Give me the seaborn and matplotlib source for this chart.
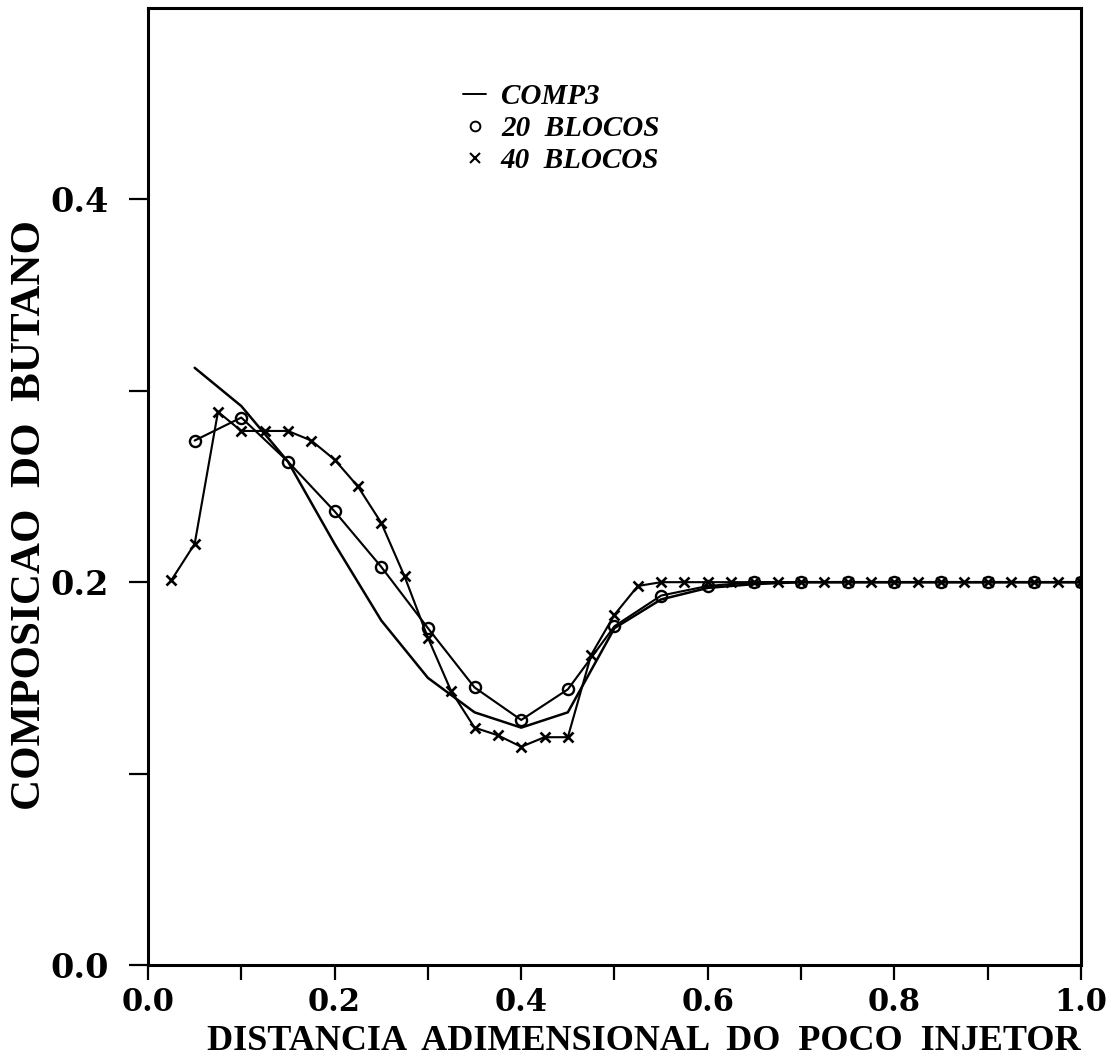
import matplotlib
matplotlib.use("Agg")
import matplotlib.pyplot as plt
from matplotlib.lines import Line2D
import seaborn as sns
import pandas as pd

# Butane composition profiles along the dimensionless distance from the injector well
x_comp3 = [0.05, 0.10, 0.15, 0.20, 0.25, 0.30, 0.35, 0.40, 0.45, 0.50,
           0.55, 0.60, 0.65, 0.70, 0.75, 0.80, 0.85, 0.90, 0.95, 1.00]
y_comp3 = [0.312, 0.292, 0.263, 0.220, 0.180, 0.150, 0.132, 0.124, 0.132, 0.176,
           0.191, 0.197, 0.199, 0.200, 0.200, 0.200, 0.200, 0.200, 0.200, 0.200]

x_20 = [0.05, 0.10, 0.15, 0.20, 0.25, 0.30, 0.35, 0.40, 0.45, 0.50,
        0.55, 0.60, 0.65, 0.70, 0.75, 0.80, 0.85, 0.90, 0.95, 1.00]
y_20 = [0.274, 0.286, 0.263, 0.237, 0.208, 0.176, 0.145, 0.128, 0.144, 0.177,
        0.193, 0.198, 0.200, 0.200, 0.200, 0.200, 0.200, 0.200, 0.200, 0.200]

x_40 = [0.025, 0.050, 0.075, 0.100, 0.125, 0.150, 0.175, 0.200, 0.225, 0.250,
        0.275, 0.300, 0.325, 0.350, 0.375, 0.400, 0.425, 0.450, 0.475, 0.500,
        0.525, 0.550, 0.575, 0.600, 0.625, 0.650, 0.675, 0.700, 0.725, 0.750,
        0.775, 0.800, 0.825, 0.850, 0.875, 0.900, 0.925, 0.950, 0.975, 1.000]
y_40 = [0.201, 0.220, 0.289, 0.279, 0.279, 0.279, 0.274, 0.264, 0.250, 0.231,
        0.203, 0.171, 0.143, 0.124, 0.120, 0.114, 0.119, 0.119, 0.162, 0.183,
        0.198, 0.200, 0.200, 0.200, 0.200, 0.200, 0.200, 0.200, 0.200, 0.200,
        0.200, 0.200, 0.200, 0.200, 0.200, 0.200, 0.200, 0.200, 0.200, 0.200]

series_labels = ["COMP3", "20  BLOCOS", "40  BLOCOS"]
x_ticks = [0.0, 0.1, 0.2, 0.3, 0.4, 0.5, 0.6, 0.7, 0.8, 0.9, 1.0]
x_tick_labels = ["0.0", "", "0.2", "", "0.4", "", "0.6", "", "0.8", "", "1.0"]
y_ticks = [0.0, 0.1, 0.2, 0.3, 0.4]
y_tick_labels = ["0.0", "", "0.2", "", "0.4"]

sns.set_theme(style="ticks")
plt.rcParams["font.family"] = ["Liberation Serif", "DejaVu Serif"]
plt.rcParams["text.color"] = "black"
plt.rcParams["axes.labelcolor"] = "black"

fig = plt.figure(figsize=(11.07, 10.61), dpi=100)
ax = fig.add_axes([0.1337, 0.0905, 0.8428, 0.902])

df_c = pd.DataFrame({"x": x_comp3, "y": y_comp3})
df_20 = pd.DataFrame({"x": x_20, "y": y_20})
df_40 = pd.DataFrame({"x": x_40, "y": y_40})

lw = 1.8
sns.lineplot(data=df_c, x="x", y="y", ax=ax, color="black", lw=lw,
             sort=False, estimator=None)
sns.lineplot(data=df_20, x="x", y="y", ax=ax, color="black", lw=lw * 0.85,
             marker="o", markersize=8, markerfacecolor="none",
             markeredgecolor="black", markeredgewidth=1.7,
             sort=False, estimator=None)
sns.lineplot(data=df_40, x="x", y="y", ax=ax, color="black", lw=lw * 0.85,
             marker="x", markersize=7, markeredgecolor="black",
             markeredgewidth=1.9, sort=False, estimator=None)

ax.set_xlim(0.0, 1.0)
ax.set_ylim(0.0, 0.5)
ax.set_xticks(x_ticks)
ax.set_xticklabels(x_tick_labels)
ax.set_yticks(y_ticks)
ax.set_yticklabels(y_tick_labels)

for side in ["left", "right", "top", "bottom"]:
    ax.spines[side].set_linewidth(2.2)
    ax.spines[side].set_color("black")

ax.tick_params(axis="x", direction="out", length=11, width=1.6,
               colors="black", labelsize=22, pad=5)
ax.tick_params(axis="y", direction="out", length=14, width=1.6,
               colors="black", labelsize=24, pad=14)
for lab in ax.get_xticklabels() + ax.get_yticklabels():
    lab.set_fontweight("bold")
    lab.set_family(["DejaVu Serif"])

ax.set_xlabel("DISTANCIA  ADIMENSIONAL  DO  POCO  INJETOR", fontsize=26,
              fontweight="bold", color="black", loc="right")
ax.xaxis.set_label_coords(1.0, -0.097)
ax.xaxis.label.set_va("bottom")
ax.set_ylabel("COMPOSICAO  DO  BUTANO", fontsize=31, fontweight="bold",
              color="black")
ax.yaxis.set_label_coords(-0.127, 0.47)
ax.yaxis.label.set_va("center")

handles = [
    Line2D([], [], color="black", lw=1.4),
    Line2D([], [], color="black", lw=0, marker="o", markersize=7,
           markerfacecolor="none", markeredgewidth=1.4),
    Line2D([], [], color="black", lw=0, marker="x", markersize=6.5,
           markeredgewidth=1.5),
]
leg = ax.legend(handles, series_labels, loc="upper left",
                bbox_to_anchor=(0.322, 0.937), frameon=False,
                handlelength=0.8, handletextpad=0.5, labelspacing=0.18,
                borderpad=0, prop={"size": 21, "weight": "bold",
                                   "style": "italic"})
for t in leg.get_texts():
    t.set_color("black")

fig.savefig("out.png", dpi=100, facecolor="white")
